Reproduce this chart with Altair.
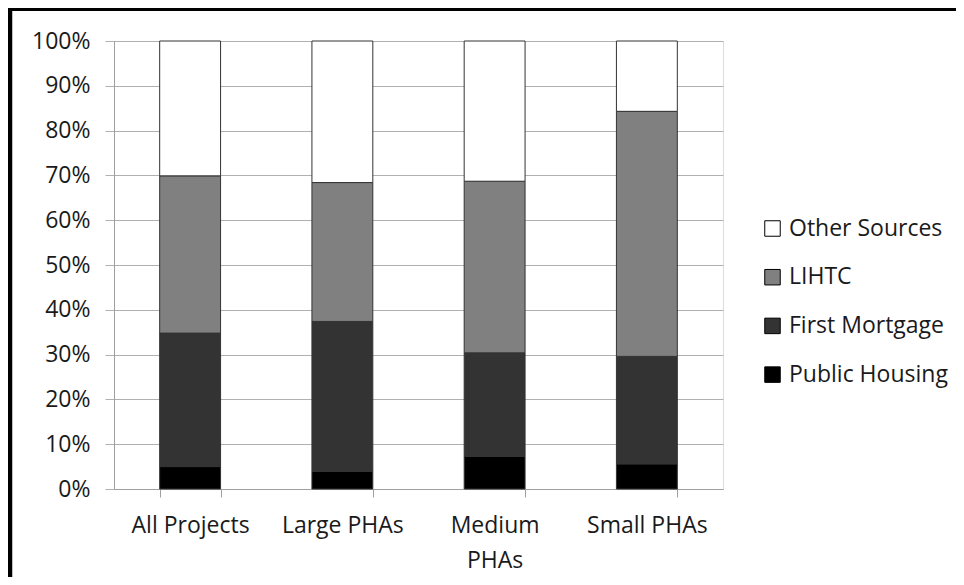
import altair as alt
import pandas as pd

groups = ["All Projects", "Large PHAs", "Medium PHAs", "Small PHAs"]
sources = ["Public Housing", "First Mortgage", "LIHTC", "Other Sources"]
public_housing = [0.050, 0.039, 0.073, 0.056]
first_mortgage = [0.298, 0.335, 0.231, 0.240]
lihtc = [0.351, 0.310, 0.383, 0.547]
other_sources = [0.301, 0.316, 0.313, 0.157]
legend_order = ["Other Sources", "LIHTC", "First Mortgage", "Public Housing"]
colors = ["#ffffff", "#808080", "#333333", "#000000"]
y_ticks = [0.0, 0.1, 0.2, 0.3, 0.4, 0.5, 0.6, 0.7, 0.8, 0.9, 1.0]
title_text = "by Funding Source"

series = [public_housing, first_mortgage, lihtc, other_sources]
rows = []
for si, (src, vals) in enumerate(zip(sources, series)):
    for g, v in zip(groups, vals):
        rows.append({"group": g, "source": src, "value": v, "order": si})
df = pd.DataFrame(rows)

FONT = "Open Sans"
TXT = "#1a1a1a"

bars = alt.Chart(df).mark_bar(stroke="#333333", strokeWidth=1).encode(
    x=alt.X(
        "group:N",
        sort=groups,
        scale=alt.Scale(paddingInner=0.6, paddingOuter=0.3),
        axis=alt.Axis(
            title=None,
            labelAngle=0,
            tickBand="extent",
            tickSize=8,
            labelPadding=17,
            labelFont=FONT,
            labelFontSize=23,
            labelColor=TXT,
            labelLineHeight=35,
            labelExpr="datum.label == 'Medium PHAs' ? ['Medium', 'PHAs'] : datum.label",
            domainColor="#a0a0a0",
            tickColor="#a0a0a0",
            grid=False,
        ),
    ),
    y=alt.Y(
        "value:Q",
        stack="zero",
        scale=alt.Scale(domain=[0, 1], nice=False),
        axis=alt.Axis(
            title=None,
            values=y_ticks,
            format=".0%",
            tickSize=9,
            labelPadding=15,
            labelFont=FONT,
            labelFontSize=23,
            labelColor=TXT,
            grid=True,
            gridColor="#b0b0b0",
            domainColor="#a0a0a0",
            tickColor="#b0b0b0",
        ),
    ),
    color=alt.Color(
        "source:N",
        scale=alt.Scale(domain=legend_order, range=colors),
        legend=alt.Legend(
            title=None,
            orient="none",
            legendX=647,
            legendY=176,
            padding=0,
            symbolType="square",
            symbolSize=240,
            symbolStrokeColor="#000000",
            symbolStrokeWidth=1,
            labelFont=FONT,
            labelFontSize=23,
            labelColor=TXT,
            labelOffset=5,
            rowPadding=24.7,
        ),
    ),
    order=alt.Order("order:Q", sort="ascending"),
)

one = alt.Data(values=[{"k": 1}])
frame_top = alt.Chart(one).mark_rule(color="#000000", strokeWidth=4).encode(
    x=alt.value(-110), x2=alt.value(900), y=alt.value(-32)
)
frame_left = alt.Chart(one).mark_rule(color="#000000", strokeWidth=4.5).encode(
    x=alt.value(-104), y=alt.value(-40), y2=alt.value(560)
)
title_mark = alt.Chart(one).mark_text(
    font="Liberation Sans", fontSize=22, fontWeight="bold", baseline="bottom", color="#000000"
).encode(x=alt.value(410), y=alt.value(-36), text=alt.value(title_text))

chart = alt.layer(bars, frame_top, frame_left, title_mark).properties(
    width=609,
    height=448,
    autosize=alt.AutoSizeParams(type="none"),
    padding={"left": 106, "top": 33, "right": 233, "bottom": 88},
).configure_view(stroke=None).configure(background="#ffffff")

chart.save("out.html", embed_options={"renderer": "svg", "actions": False})
